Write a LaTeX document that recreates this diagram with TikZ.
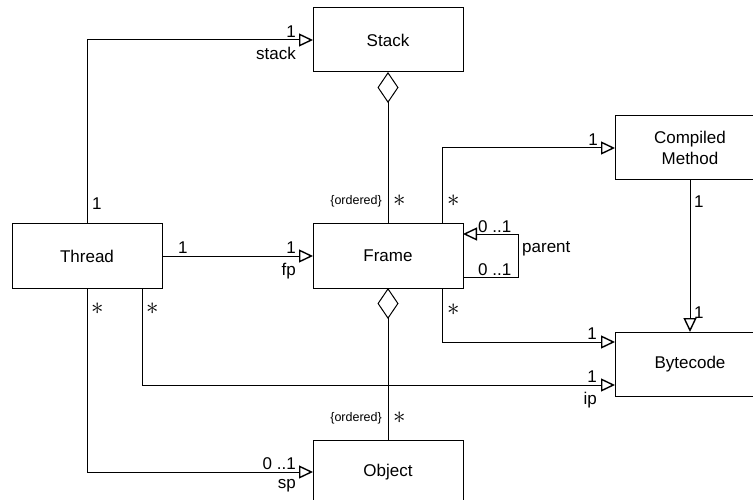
\documentclass[tikz,border=0pt]{standalone}
\usepackage{fontspec}
\setmainfont{Liberation Sans}
\usetikzlibrary{arrows.meta, positioning}

\begin{document}
\begin{tikzpicture}[
  x=1pt, y=-1pt,
  every node/.style={font=\fontsize{17}{21}\selectfont},
  cls/.style={rectangle, draw, line width=1pt, minimum width=150pt, minimum height=64pt, outer sep=0pt, align=center},
  mult/.style={inner sep=1pt},
  star/.style={inner sep=1pt, font=\fontsize{24}{24}\selectfont},
  note/.style={inner sep=1pt, font=\fontsize{12.5}{15}\selectfont},
  arr/.style={-{Triangle[open, length=14pt, width=13pt, line width=1.4pt]}, line width=1pt},
  agg/.style={{Diamond[open, length=31pt, width=21pt]}-, line width=1pt}
]
\clip (0,0) rectangle (753,500);

% Classes
\node[cls] (thread) at (87,256) {Thread};
\node[cls, right=151pt of thread] (frame) {Frame};
\node[cls, above=152pt of frame] (stack) {Stack};
\node[cls, below=152pt of frame] (object) {Object};
\node[cls, above right=44pt and 152pt of frame] (method) {Compiled\\Method};
\node[cls, below right=44pt and 152pt of frame] (bytecode) {Bytecode};

% Associations
\draw[arr] (thread.north) |- (stack.west);
\draw[agg] (stack.south) -- (frame.north);
\draw[arr] (thread) -- (frame);
\draw[arr] ([xshift=-21pt]frame.north east) |- (method.west);
\draw[arr] ([yshift=-21pt]frame.east) -| ([xshift=55pt,yshift=22pt]frame.east) -- ([yshift=22pt]frame.east);
\draw[arr] (method) -- (bytecode);
\draw[arr] ([xshift=-21pt]frame.south east) |- ([yshift=22pt]bytecode.west);
\draw[arr] ([xshift=-20pt]thread.south east) |- ([yshift=-21pt]bytecode.west);
\draw[agg] (frame.south) -- (object.north);
\draw[arr] (thread.south) |- (object.west);

% Multiplicities and roles
\node[mult, anchor=south west] (tsA) at ([xshift=4pt,yshift=13pt]thread.north) {1};
\node[mult, anchor=south east] (tsB) at ([xshift=-16pt,yshift=1pt]stack.west) {1};
\node[mult, anchor=north east] (tsR) at ([xshift=-16pt,yshift=-6pt]stack.west) {stack};
\node[note, anchor=east] (sfO) at ([xshift=-5pt,yshift=23pt]frame.north) {\{ordered\}};
\node[star, anchor=west] (sfM) at ([xshift=4pt,yshift=23pt]frame.north) {$\ast$};
\node[mult, anchor=south west] (tfA) at ([xshift=15pt,yshift=1pt]thread.east) {1};
\node[mult, anchor=south east] (tfB) at ([xshift=-16pt,yshift=1pt]frame.west) {1};
\node[mult, anchor=north east] (tfR) at ([xshift=-16pt,yshift=-6pt]frame.west) {fp};
\node[star, anchor=west] (fmA) at ([xshift=-17pt,yshift=23pt]frame.north east) {$\ast$};
\node[mult, anchor=south east] (fmB) at ([xshift=-16pt,yshift=1pt]method.west) {1};
\node[mult, anchor=south west] (ffA) at ([xshift=14pt,yshift=22pt]frame.east) {0 ..1};
\node[mult, anchor=south west] (ffB) at ([xshift=14pt,yshift=-21pt]frame.east) {0 ..1};
\node[mult, anchor=west] (ffR) at ([xshift=58pt,yshift=7pt]frame.east) {parent};
\node[mult, anchor=north west] (mbA) at ([xshift=3pt,yshift=-15pt]method.south) {1};
\node[mult, anchor=south west] (mbB) at ([xshift=3pt,yshift=12pt]bytecode.north) {1};
\node[star, anchor=west] (fbA) at ([xshift=-17pt,yshift=-22pt]frame.south east) {$\ast$};
\node[mult, anchor=south east] (fbB) at ([xshift=-17pt,yshift=23pt]bytecode.west) {1};
\node[star, anchor=west] (tbA) at ([xshift=-17pt,yshift=-21pt]thread.south east) {$\ast$};
\node[mult, anchor=south east] (tbB) at ([xshift=-17pt,yshift=-20pt]bytecode.west) {1};
\node[mult, anchor=north east] (tbR) at ([xshift=-17pt,yshift=-27pt]bytecode.west) {ip};
\node[note, anchor=east] (foO) at ([xshift=-5pt,yshift=22pt]object.north) {\{ordered\}};
\node[star, anchor=west] (foM) at ([xshift=4pt,yshift=22pt]object.north) {$\ast$};
\node[star, anchor=west] (toA) at ([xshift=3pt,yshift=-21pt]thread.south) {$\ast$};
\node[mult, anchor=south east] (toB) at ([xshift=-16pt,yshift=1pt]object.west) {0 ..1};
\node[mult, anchor=north east] (toR) at ([xshift=-16pt,yshift=-6pt]object.west) {sp};

\end{tikzpicture}
\end{document}
